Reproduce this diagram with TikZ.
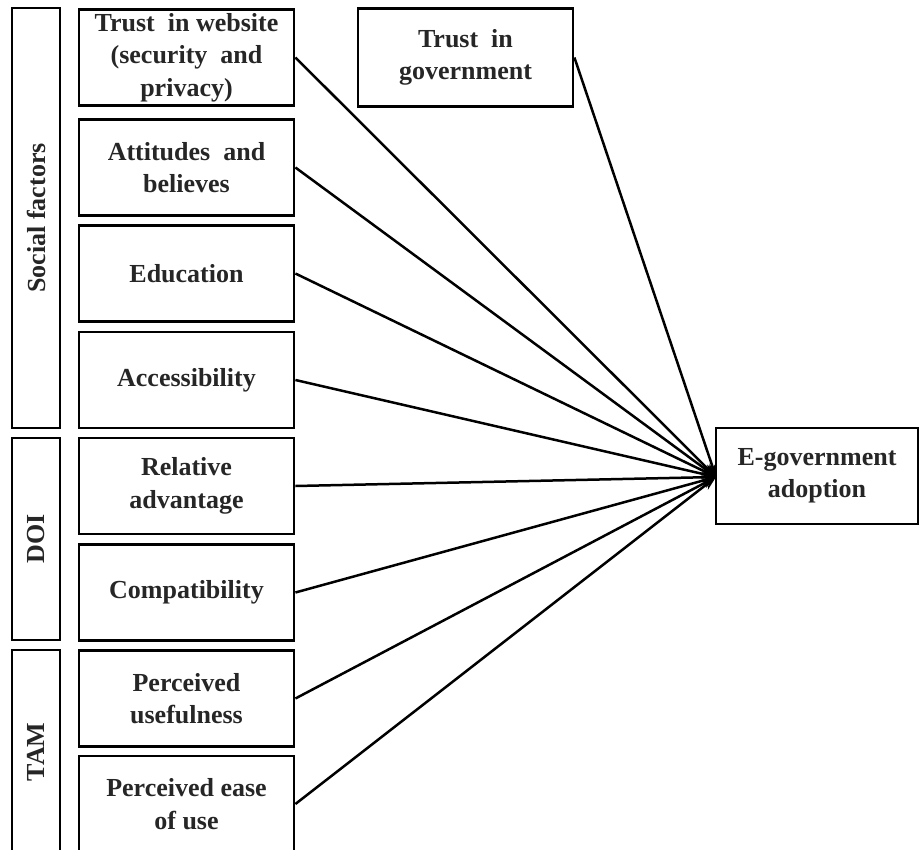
\documentclass[tikz,border=0pt]{standalone}
\usepackage{fontspec}
\setmainfont{Liberation Serif}
\usetikzlibrary{arrows.meta}
\begin{document}
\begin{tikzpicture}[x=1pt,y=1pt,
  txt/.style={font=\fontsize{26}{32.5}\selectfont\bfseries,text=black!85},
  box/.style={txt,draw=black,line width=2.8pt,fill=white,minimum width=215pt,minimum height=96pt,inner sep=0pt,align=center},
  grp/.style={draw=black,line width=2.8pt,minimum width=48pt,inner sep=0pt},
  link/.style={line width=2.5pt,-{Stealth[length=14pt,width=10pt]}}]
\useasboundingbox (0,0) rectangle (920,-850);
\clip (0,0) rectangle (920,-850);
% group boxes
\node[grp,minimum height=420pt] (gs) at (36,-218) {};
\node[txt,rotate=90] (gsl) at (gs.center) {Social factors};
\node[grp,minimum height=202pt] (gd) at (36,-539) {};
\node[txt,rotate=90] (gdl) at (gd.center) {DOI};
\node[grp,minimum height=204pt] (gt) at (36,-752) {};
\node[txt,rotate=90] (gtl) at (gt.center) {TAM};
% item boxes
\node[box] (b1) at (186.5,-57.5) {Trust\ \ in website\\(security\ \ and\\privacy)};
\node[box] (b2) at (186.5,-167.5) {Attitudes\ \ and\\believes};
\node[box] (b3) at (186.5,-273.5) {Education};
\node[box] (b4) at (186.5,-380) {Accessibility};
\node[box] (b5) at (186.5,-486) {Relative\\advantage};
\node[box] (b6) at (186.5,-592.5) {Compatibility};
\node[box] (b7) at (186.5,-698.5) {Perceived\\usefulness};
\node[box] (b8) at (186.5,-804) {Perceived ease\\of use};
\node[box,minimum height=98pt] (tg) at (465.5,-57.5) {Trust\ \ in\\government};
\node[box,minimum width=202pt] (eg) at (817,-476) {E-government\\adoption};
\coordinate (tip) at (716,-477);
\foreach \n in {b1,b2,b3,b4,b5,b6,b7,b8}{
  \draw[link] (\n.east) -- (tip);
}
\draw[link] (tg.east) -- (tip);
\end{tikzpicture}
\end{document}
